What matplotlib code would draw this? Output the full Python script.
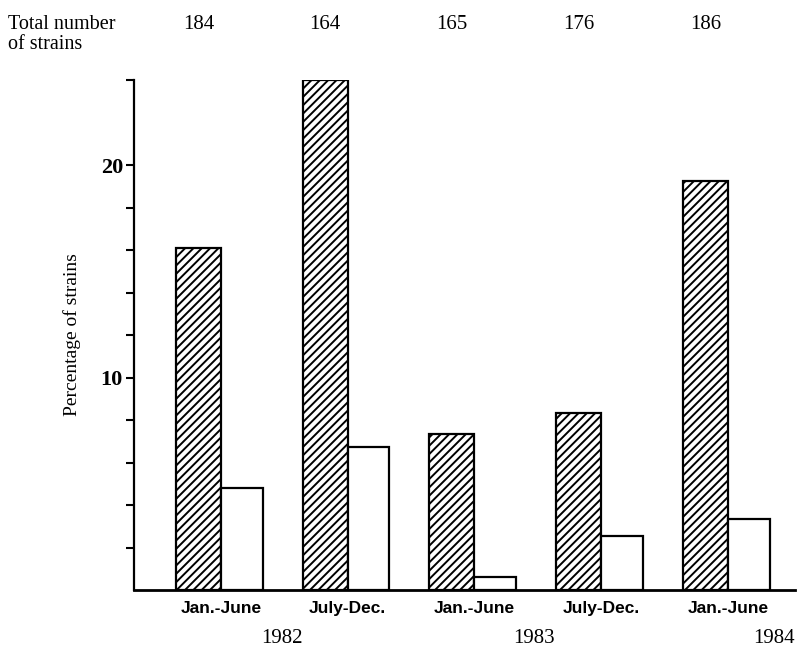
import numpy as np
from matplotlib import pyplot as plt
from matplotlib import transforms

# values
periods = ["Jan.-June", "July-Dec.", "Jan.-June", "July-Dec.", "Jan.-June"]
totals = [184, 164, 165, 176, 186]
hatched = [16.1, 24.0, 7.35, 8.35, 19.25]
open_bars = [4.8, 6.75, 0.6, 2.55, 3.35]
years = ["1982", "1983", "1984"]
year_pos = [0.48, 2.47, 4.36]

plt.rcParams['hatch.linewidth'] = 1.4
serif = "Liberation Serif"

fig = plt.figure(figsize=(8, 6.56), dpi=100)
ax = fig.add_axes([0.1675, 0.1006, 0.8265, 0.7774])

x = np.arange(len(periods))
w_h = 0.355
w_o = 0.33
ax.bar(x - w_h / 2, hatched, width=w_h, facecolor="white", edgecolor="black",
       hatch="////", linewidth=1.6)
ax.bar(x + w_o / 2, open_bars, width=w_o, facecolor="white", edgecolor="black",
       linewidth=1.6)

ax.set_xlim(-0.685, 4.53)
ax.set_ylim(0, 24)
for s in ["top", "right"]:
    ax.spines[s].set_visible(False)
ax.spines["left"].set_linewidth(1.6)
ax.spines["bottom"].set_linewidth(2)

ticks = list(range(2, 21, 2)) + [24]
ax.set_yticks(ticks)
ax.set_yticklabels(["10" if t == 10 else "20" if t == 20 else "" for t in ticks],
                   fontfamily=serif, fontsize=16, fontweight="bold")
ax.tick_params(axis="y", direction="out", length=6, width=1.5, pad=2)
ax.set_xticks(x)
ax.set_xticklabels(periods, fontfamily="Liberation Sans", fontweight="bold", fontsize=12.5)
ax.tick_params(axis="x", length=0, pad=8)

ax.set_ylabel("Percentage of strains", fontfamily=serif, fontsize=14, labelpad=14)

# totals row along the top of the figure
top_tr = transforms.blended_transform_factory(ax.transData, fig.transFigure)
for xi, t in zip(x, totals):
    ax.text(xi - w_h / 2, 0.977, str(t), transform=top_tr, ha="center", va="top",
            fontfamily=serif, fontsize=15)
fig.text(0.01, 0.977, "Total number\nof strains", ha="left", va="top",
         fontfamily=serif, fontsize=14.5, linespacing=1.1)

for yp, yr in zip(year_pos, years):
    ax.text(yp, 0.027, yr, transform=top_tr, ha="center", va="center",
            fontfamily=serif, fontsize=15)

plt.savefig("out.png")
